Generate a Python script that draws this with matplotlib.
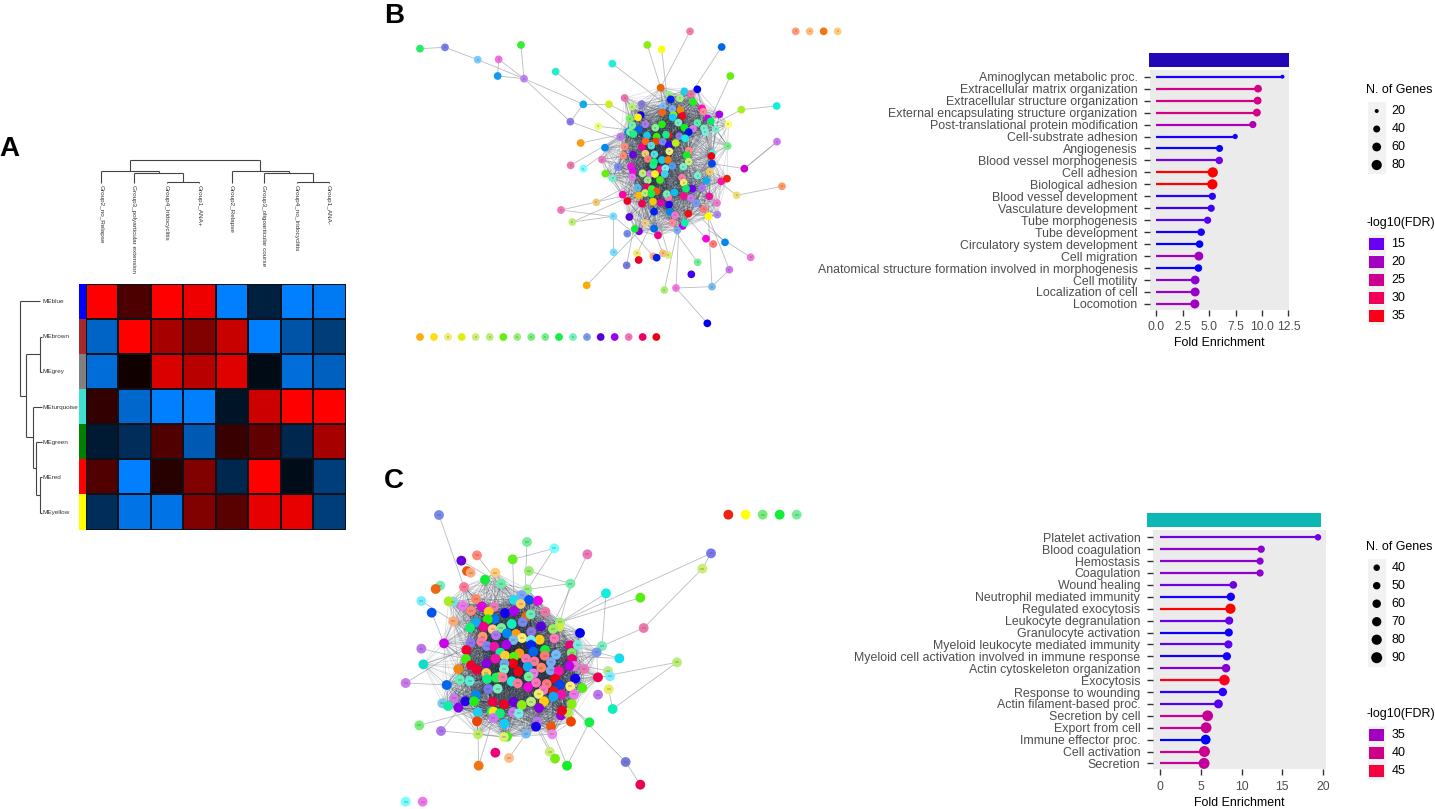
import matplotlib
matplotlib.use("Agg")
import matplotlib.pyplot as plt
from matplotlib.colors import LinearSegmentedColormap
from matplotlib.patches import Rectangle
import numpy as np

plt.rcParams['font.family'] = ['Liberation Sans', 'DejaVu Sans']

W, H = 1435, 809

# panel A: module / trait correlations
samples = ["Group2_no_Relapse", "Group3_polyarticular extension", "Group4_Iridocyclitis", "Group1_ANA+",
           "Group2_Relapse", "Group3_oligoarticular course", "Group4_no_Iridocyclitis", "Group1_ANA-"]
modules = ["MEblue", "MEbrown", "MEgrey", "MEturquoise", "MEgreen", "MEred", "MEyellow"]
module_cols = ["#0000ff", "#a52a2a", "#808080", "#40e0d0", "#008000", "#ff0000", "#ffff00"]
corr = [[1, 0.3, 1, 0.93, -1, -0.25, -1, -0.95],
        [-0.78, 1, 0.65, 0.5, 0.78, -1, -0.65, -0.47],
        [-0.85, 0.07, 0.85, 0.72, 0.87, -0.08, -0.85, -0.75],
        [0.2, -0.8, -1, -1, -0.15, 0.8, 1, 1],
        [-0.2, -0.35, 0.32, -0.7, 0.22, 0.38, -0.3, 0.65],
        [0.32, -1, 0.15, 0.5, -0.3, 1, -0.1, -0.48],
        [-0.35, -0.9, -0.9, 0.5, 0.35, 0.9, 0.9, -0.48]]
col_dendro = [(390, 90, 780, 90), (390, 90, 390, 122), (780, 90, 780, 122),
              (304, 122, 476, 122), (304, 122, 304, 160), (476, 122, 476, 130),
              (402, 130, 550, 130), (402, 130, 402, 160), (550, 130, 550, 157),
              (500, 157, 597, 157), (500, 157, 500, 160), (597, 157, 597, 160),
              (695, 122, 866, 122), (695, 122, 695, 160), (866, 122, 866, 130),
              (792, 130, 938, 130), (792, 130, 792, 160), (938, 130, 938, 157),
              (890, 157, 988, 157), (890, 157, 890, 160), (988, 157, 988, 160)]
row_dendro = [(60, 513, 120, 513), (60, 513, 60, 797), (60, 797, 77, 797), (77, 672, 77, 922),
              (77, 672, 120, 672), (120, 620, 120, 727), (120, 620, 125, 620), (120, 727, 125, 727),
              (77, 922, 100, 922), (100, 830, 100, 1015), (100, 830, 125, 830), (100, 1015, 108, 1015),
              (108, 935, 108, 1095), (108, 935, 125, 935), (108, 1095, 120, 1095),
              (120, 1042, 120, 1148), (120, 1042, 125, 1042), (120, 1148, 125, 1148)]

# panel B network, read-off positions and colours
b_nodes = [(60,146,'#22ee66'),(135,142,'#7a7aee'),(233,179,'#77ccff'),(296,178,'#f070e0'),(293,228,'#1199ee'),
(372,236,'#c080f0'),(363,135,'#33ee33'),(467,215,'#22eecc'),(637,191,'#22eedd'),(742,135,'#88ee11'),(785,148,'#ffff11'),
(870,94,'#f080a8'),(965,141,'#0066ee'),(991,228,'#66ee11'),(782,263,'#ee6600'),(892,268,'#0000ee'),(853,274,'#22ccee'),
(873,282,'#ee70a0'),(808,284,'#99ee88'),(812,298,'#0022ee'),(840,295,'#aaee88'),(879,306,'#22ee22'),(550,313,'#11aaee'),
(627,313,'#ccee22'),(674,294,'#ee70aa'),(697,320,'#bbee77'),(725,312,'#8877dd'),(789,319,'#77bbff'),(817,327,'#77aaff'),
(841,330,'#ee8811'),(906,325,'#ff11bb'),(910,335,'#ff8899'),(958,343,'#aa00ee'),(1024,329,'#aaee22'),(1130,318,'#11eedd'),
(511,365,'#8877ee'),(595,379,'#eeff77'),(689,356,'#77ee66'),(722,345,'#1100ee'),(714,352,'#ffee11'),(787,337,'#ee6611'),
(820,345,'#99ee11'),(818,352,'#11ccff'),(847,348,'#ee0022'),(924,356,'#cc00ee'),(932,364,'#00ee66'),(892,369,'#55eeaa'),
(985,373,'#ffff77'),(736,373,'#aa77ee'),(786,373,'#22ee11'),(835,368,'#77eebb'),(697,376,'#77eeaa'),(766,383,'#88ee99'),
(853,383,'#11ee22'),(879,386,'#dd77ee'),(912,385,'#77eebb'),(947,388,'#77eecc'),(717,388,'#0066ee'),(684,396,'#0088ee'),
(690,396,'#77ee99'),(700,402,'#22ee88'),(866,396,'#0011ee'),(542,429,'#ff9911'),(661,410,'#bb77ee'),(741,407,'#11ccee'),
(770,410,'#33ee11'),(806,405,'#ee1122'),(798,404,'#11ee88'),(838,409,'#8877ee'),(855,415,'#11eedd'),(916,397,'#77eedd'),
(1131,425,'#cc77ee'),(983,438,'#77ee88'),(615,443,'#0088ee'),(674,440,'#ff8877'),(726,441,'#ee0088'),(737,424,'#ff6622'),
(768,424,'#ee4400'),(754,437,'#55dddd'),(788,425,'#7788ee'),(807,435,'#3300ee'),(827,429,'#bbee11'),(866,452,'#ff8888'),
(808,454,'#eeee77'),(699,464,'#6600dd'),(670,467,'#ff8877'),(736,461,'#eecc77'),(763,463,'#55dddd'),(860,466,'#11ee22'),
(937,460,'#55eedd'),(934,468,'#ee0011'),(606,479,'#ee77bb'),(744,477,'#ff7777'),(786,480,'#11ccee'),(804,480,'#ee7711'),
(760,495,'#22ee99'),(762,486,'#11ee77'),(866,485,'#ccee77'),(936,491,'#0044ee'),(512,496,'#ee77aa'),(654,501,'#7788ee'),
(693,500,'#ee11dd'),(817,498,'#5599ee'),(850,500,'#77eecc'),(1033,506,'#cc00cc'),(550,506,'#77ffff'),(616,521,'#66ee11'),
(638,535,'#77eecc'),(699,515,'#dd11dd'),(781,508,'#ff1177'),(796,505,'#77eeee'),(728,520,'#bbee77'),(750,522,'#cc77ee'),
(765,522,'#ffee22'),(794,522,'#44ccee'),(697,532,'#dd77ee'),(743,541,'#99ee88'),(780,540,'#44ee11'),(846,533,'#ff77aa'),
(893,527,'#77eecc'),(929,515,'#eecc66'),(851,548,'#eeee66'),(919,542,'#11aaee'),(964,544,'#ff11aa'),(981,536,'#ee2211'),
(740,561,'#ee0066'),(713,563,'#55bbee'),(755,567,'#44ee33'),(770,574,'#ee5511'),(877,566,'#6600ee'),(858,566,'#11ee66'),
(906,564,'#aa77ee'),(668,584,'#ff00aa'),(717,586,'#ffbb00'),(735,579,'#bbee77'),(754,581,'#11ee44'),(805,592,'#ff77aa'),
(800,582,'#77eebb'),(823,577,'#11bbee'),(851,588,'#ee1188'),(873,594,'#cc77ee'),(928,589,'#ee1199'),(1010,586,'#eedd77'),
(1146,559,'#ff9966'),(682,603,'#ee0022'),(589,607,'#eecc77'),(726,611,'#ee0055'),(759,605,'#eecc00'),(782,608,'#dd00aa'),
(807,614,'#2200ee'),(888,610,'#7799ee'),(951,609,'#ee77cc'),(483,630,'#ee77bb'),(911,628,'#ff7777'),(762,635,'#0022ee'),
(810,636,'#0088ee'),(865,641,'#ee1111'),(640,649,'#77ddff'),(688,651,'#5500dd'),(925,649,'#ffff00'),(952,644,'#aa88ee'),
(825,646,'#ee77cc'),(517,666,'#bbee77'),(736,669,'#eecc88'),(817,668,'#ff8899'),(848,678,'#cc00ee'),(854,669,'#11eeaa'),
(717,694,'#8800dd'),(704,687,'#11ee33'),(762,686,'#0066ee'),(832,691,'#77aaee'),(682,701,'#7788ee'),(774,706,'#ee0088'),
(918,716,'#ff00dd'),(940,732,'#ff7777'),(975,727,'#0088ee'),(641,757,'#77ddff'),(711,760,'#eeee77'),(760,769,'#ffaa77'),
(805,765,'#ddee77'),(789,760,'#ffbb77'),(770,773,'#0022ee'),(716,780,'#ee0022'),(680,796,'#7777dd'),(1052,772,'#ee77dd'),
(893,787,'#77ee99'),(874,823,'#4400ee'),(988,809,'#cc77ee'),(560,856,'#ffaa00'),(793,870,'#aaee77'),(828,864,'#ee77dd'),
(936,860,'#77bbee'),(922,970,'#0000ee'),
(1187,94,'#ff9977'),(1229,94,'#ffbb77'),(1271,94,'#ee7711'),(1313,94,'#ffcc77'),
(60,1011,'#ffaa11'),(102,1011,'#ffdd11'),(144,1011,'#eeee77'),(185,1011,'#ddee11'),(227,1011,'#ccee77'),(269,1011,'#bbee77'),
(310,1011,'#66ee11'),(352,1011,'#99ee77'),(394,1011,'#77ee77'),(436,1011,'#77ee88'),(477,1011,'#11ee44'),(519,1011,'#77eebb'),
(561,1011,'#7799ee'),(602,1011,'#5500dd'),(644,1011,'#9900ee'),(686,1011,'#ee77bb'),(728,1011,'#ee0066'),(769,1011,'#ee0011')]
b_edges = [(60,146,135,142),(135,142,233,179),(233,179,372,236),(296,178,372,236),(296,178,293,228),(293,228,372,236),
(363,135,372,236),(372,236,550,313),(372,236,511,365),(467,215,690,395),(550,313,511,365),(550,313,627,313),(637,191,780,300),
(742,135,782,263),(785,148,800,280),(870,94,782,263),(965,141,840,330),(991,228,930,360),(1130,318,1024,329),(1024,329,890,400),
(511,365,690,430),(595,379,690,390),(542,429,680,400),(615,443,760,420),(512,496,660,410),(606,479,700,500),(550,506,640,440),
(616,521,700,520),(1131,425,1033,506),(1131,425,1040,500),(1033,506,936,491),(1146,559,1010,586),(1010,586,860,470),(483,630,660,590),
(483,630,640,650),(589,607,680,560),(517,666,690,590),(517,666,640,649),(640,649,690,690),(641,757,640,650),(560,856,720,690),
(680,796,700,690),(828,864,836,700),(828,864,936,860),(793,870,830,700),(828,864,922,970),(988,809,936,860),(988,809,925,649),
(936,860,925,649),(1052,772,925,690),(975,727,910,660),(893,787,830,700),(760,769,700,700),(711,760,770,640),(805,765,770,640),
(789,760,740,640),(674,294,790,350),(627,313,760,380),(725,312,700,400),(983,438,860,400),(985,373,860,470),(918,716,850,640)]

# panel C network
c_nodes = [(147,75,'#7788ee'),(411,156,'#77ee99'),(493,175,'#77ffff'),(592,193,'#ee77bb'),(1015,74,'#ee2211'),(1067,74,'#ffff11'),
(1118,74,'#77ee77'),(1169,74,'#11ee33'),(1220,74,'#77ee99'),(963,190,'#7777ee'),(937,236,'#ccee77'),(751,323,'#55ee11'),(761,414,'#ee77aa'),
(648,310,'#11eedd'),(541,281,'#77eeaa'),(261,196,'#ff8877'),(214,212,'#6600dd'),(368,208,'#66ee22'),(417,243,'#99ee77'),(231,243,'#ee5511'),
(242,248,'#ffaa77'),(316,248,'#ffcc77'),(285,269,'#11ee33'),(334,281,'#66eeaa'),(151,287,'#77eebb'),(137,297,'#ee6611'),(222,291,'#ff7799'),
(412,298,'#99ee88'),(94,333,'#77eeff'),(190,335,'#77ddee'),(176,334,'#aaee22'),(258,327,'#ff8866'),(218,347,'#ee77ee'),(276,350,'#dd00dd'),
(312,351,'#ee77bb'),(395,315,'#77aaff'),(372,330,'#22ddee'),(417,330,'#0055ee'),(444,332,'#ee00ee'),(392,342,'#ffcc66'),(125,368,'#0055ee'),
(243,362,'#ff8877'),(296,365,'#ffcc11'),(345,369,'#1100ee'),(372,363,'#aa00ee'),(408,380,'#ee6600'),(422,373,'#66eebb'),(466,365,'#ee77aa'),
(190,394,'#ffaa77'),(258,397,'#11aaee'),(314,387,'#0077ee'),(293,388,'#22ee11'),(510,397,'#99ee77'),(240,413,'#11ee77'),(281,410,'#ee0088'),
(308,418,'#ffcc88'),(334,414,'#77ee99'),(365,402,'#11eebb'),(398,396,'#7788ee'),(453,409,'#5500dd'),(508,410,'#ccee44'),(489,417,'#99ee66'),
(570,429,'#0000ee'),(424,425,'#8877dd'),(378,432,'#ff9911'),(351,430,'#0088ee'),(278,440,'#ff9966'),(318,436,'#aa77ee'),(449,449,'#ffcc11'),
(396,444,'#ffee77'),(493,445,'#ff77bb'),(162,460,'#cc00ee'),(242,458,'#8877ee'),(274,455,'#ff77aa'),(291,468,'#7788ee'),(313,470,'#ee11aa'),
(370,450,'#77bbee'),(349,464,'#aa00ee'),(423,450,'#77eeee'),(423,465,'#0022ee'),(465,480,'#11ee33'),(541,466,'#ee0077'),(563,465,'#77eedd'),
(636,468,'#77eebb'),(94,476,'#bb77ee'),(229,480,'#ee0033'),(430,485,'#0066ee'),(331,488,'#11ee99'),(388,490,'#ff9911'),(345,497,'#ffcc33'),
(498,494,'#77bbff'),(545,489,'#77ee66'),(620,487,'#7799ee'),(228,507,'#44ee11'),(372,500,'#55ee11'),(408,506,'#ff77aa'),(464,497,'#ff7777'),
(433,514,'#ff7799'),(483,516,'#77aaee'),(688,505,'#11ddee'),(546,507,'#ee0077'),(316,506,'#ee11aa'),(100,523,'#11ddcc'),(289,520,'#8800dd'),
(243,526,'#ee0033'),(369,520,'#ee0011'),(343,521,'#66aaee'),(413,530,'#11aaee'),(552,528,'#ee77dd'),(538,528,'#bb00ee'),(205,537,'#ee8811'),
(260,539,'#ee0033'),(342,538,'#77eecc'),(454,533,'#ff8866'),(385,544,'#ee0011'),(482,541,'#77aaee'),(506,543,'#ff11aa'),(583,537,'#ee77bb'),
(861,517,'#bbee77'),(654,543,'#bbee88'),(624,562,'#ee0055'),(660,559,'#77eeff'),(556,566,'#1100ee'),(289,549,'#ffcc55'),(431,550,'#ee77ee'),
(416,560,'#77ee99'),(47,579,'#cc77ee'),(209,569,'#66eebb'),(239,573,'#55eedd'),(291,567,'#11ee88'),(326,562,'#eeff11'),(318,563,'#22ee55'),
(338,562,'#ff7799'),(365,574,'#11eedd'),(496,567,'#ee0011'),(170,585,'#0066ee'),(383,580,'#ff7799'),(438,578,'#ff77bb'),(470,582,'#ff7777'),
(509,584,'#0044ee'),(541,589,'#ffee77'),(577,594,'#55ee11'),(656,598,'#eeee66'),(295,597,'#7777ee'),(323,596,'#77eebb'),(414,591,'#ee00dd'),
(460,600,'#ff77bb'),(491,604,'#ee1111'),(446,612,'#eeee77'),(514,613,'#ee11aa'),(552,613,'#ee77ee'),(624,614,'#bb77ee'),(258,615,'#0088ee'),
(490,620,'#11aaee'),(192,625,'#cc77ee'),(226,634,'#2200ee'),(252,634,'#22ee11'),(308,636,'#ee0044'),(371,636,'#6600dd'),(342,643,'#ee0022'),
(395,645,'#88ee11'),(423,635,'#bbee77'),(462,634,'#ffcc11'),(157,640,'#77ccee'),(174,648,'#11eeaa'),(205,653,'#8800ee'),(447,654,'#8800dd'),
(545,642,'#88ee11'),(668,657,'#11eebb'),(263,667,'#22ccee'),(305,664,'#11ee66'),(311,665,'#eeee11'),(369,666,'#cc77ee'),(386,670,'#77eeee'),
(513,676,'#9900dd'),(534,668,'#aaee44'),(516,662,'#ee0022'),(330,670,'#11ee77'),(310,684,'#cc77ee'),(88,706,'#77ee77'),(261,694,'#ee4400'),
(343,701,'#11ccff'),(442,694,'#bb77ee'),(543,695,'#ee4400'),(598,697,'#11ee44'),(438,710,'#1100ee'),(483,709,'#ee5511'),(153,723,'#aa77ee'),
(264,733,'#bbee66'),(408,731,'#77bbee'),(487,733,'#ee88ee'),(351,740,'#44ee11'),(341,741,'#ddee77'),(316,788,'#ee0077'),(479,785,'#ccee77'),
(357,804,'#ffbb88'),(495,806,'#77ee11'),(707,816,'#7777dd'),(266,827,'#ee7711'),(531,827,'#11ee22'),(751,884,'#ee0055'),(47,935,'#77ffff'),(98,935,'#ee77ee')]
c_edges = [(147,75,222,291),(963,190,510,397),(937,236,761,414),(963,190,937,236),(751,323,510,397),(648,310,510,397),(648,310,636,468),
(761,414,636,468),(541,281,510,397),(541,281,417,243),(541,281,412,298),(493,175,411,300),(493,175,368,208),(411,156,405,320),(592,193,500,380),
(368,208,372,330),(261,196,340,300),(214,212,330,280),(861,517,624,562),(861,517,668,657),(47,579,170,585),(47,579,242,458),(88,706,261,660),
(153,723,264,733),(153,723,226,634),(264,733,341,741),(707,816,543,650),(707,816,751,884),(266,827,264,733),(266,827,310,684),(531,827,480,700),
(531,827,598,697),(495,806,440,700),(357,804,408,731),(479,785,438,710),(598,697,543,650),(668,657,656,598),(688,505,560,500),(620,487,690,505),
(94,333,190,394),(94,476,240,510),(100,523,229,480),(125,368,162,460),(636,468,563,465),(654,543,540,520),(660,559,560,566),(190,394,162,460)]

# panel B lollipops
b_terms = ["Aminoglycan metabolic proc.", "Extracellular matrix organization", "Extracellular structure organization",
           "External encapsulating structure organization", "Post-translational protein modification", "Cell-substrate adhesion",
           "Angiogenesis", "Blood vessel morphogenesis", "Cell adhesion", "Biological adhesion", "Blood vessel development",
           "Vasculature development", "Tube morphogenesis", "Tube development", "Circulatory system development", "Cell migration",
           "Anatomical structure formation involved in morphogenesis", "Cell motility", "Localization of cell", "Locomotion"]
b_fold = [11.93, 9.62, 9.58, 9.51, 9.13, 7.46, 5.98, 5.95, 5.34, 5.30, 5.30, 5.19, 4.85, 4.24, 4.09, 4.02, 3.98, 3.67, 3.67, 3.64]
b_genes = [20, 48, 50, 50, 42, 28, 40, 45, 92, 92, 42, 42, 42, 46, 46, 62, 46, 60, 62, 64]
b_fdr = [11, 26, 26, 26, 21, 11, 10.5, 16, 37, 37, 12, 13, 14, 11, 10, 20, 10.5, 18, 19, 20]
b_gene_ticks = [20, 40, 60, 80]
b_fdr_ticks = [15, 20, 25, 30, 35]

# panel C lollipops
c_terms = ["Platelet activation", "Blood coagulation", "Hemostasis", "Coagulation", "Wound healing", "Neutrophil mediated immunity",
           "Regulated exocytosis", "Leukocyte degranulation", "Granulocyte activation", "Myeloid leukocyte mediated immunity",
           "Myeloid cell activation involved in immune response", "Actin cytoskeleton organization", "Exocytosis", "Response to wounding",
           "Actin filament-based proc.", "Secretion by cell", "Export from cell", "Immune effector proc.", "Cell activation", "Secretion"]
c_fold = [19.4, 12.41, 12.27, 12.27, 8.97, 8.67, 8.62, 8.47, 8.42, 8.37, 8.18, 8.08, 7.88, 7.68, 7.14, 5.81, 5.62, 5.57, 5.42, 5.37]
c_genes = [33, 48, 47, 47, 52, 58, 80, 56, 56, 56, 58, 60, 85, 60, 65, 88, 88, 76, 90, 90]
c_fdr = [31.5, 33.5, 33.5, 33.5, 31.5, 27, 47, 31, 26.5, 30.5, 27, 33, 46, 28, 30, 39, 39, 26, 39.5, 38.5]
c_gene_ticks = [40, 50, 60, 70, 80, 90]
c_fdr_ticks = [35, 40, 45]

fig = plt.figure(figsize=(W / 100, H / 100), dpi=100)


def px_axes(x0, y0, x1, y1, **kw):
    return fig.add_axes([x0 / W, 1 - y1 / H, (x1 - x0) / W, (y1 - y0) / H], **kw)


def draw_segments(ax, segs, **kw):
    for x0, y0, x1, y1 in segs:
        ax.plot([x0, x1], [y0, y1], solid_capstyle='butt', **kw)


# A: heatmap, colour strip and dendrograms
heat_cmap = LinearSegmentedColormap.from_list("hm", ["#0080ff", "#000000", "#ff0000"])
ax_h = px_axes(86, 283.5, 345.7, 529.5)
ax_h.pcolormesh(np.array(corr), cmap=heat_cmap, vmin=-1, vmax=1, edgecolors='#10101a', linewidth=0.15)
ax_h.set_ylim(len(modules), 0)
ax_h.axis('off')

ax_s = px_axes(79, 283.5, 86, 529.5)
for i, c in enumerate(module_cols):
    ax_s.bar(0.5, 1, bottom=i, width=1, color=c)
ax_s.set_xlim(0, 1)
ax_s.set_ylim(len(modules), 0)
ax_s.axis('off')

ax_d = px_axes(0, 130, 360, 540)
ax_d.set_xlim(0, 1080)
ax_d.set_ylim(1230, 0)
ax_d.axis('off')
ax_d.patch.set_alpha(0)
draw_segments(ax_d, col_dendro, color='#444444', lw=0.8)
draw_segments(ax_d, row_dendro, color='#444444', lw=0.8)
for i, s in enumerate(samples):
    ax_d.text(304 + i * 97.3, 165, s, rotation=270, ha='center', va='top', fontsize=4.6, color='#333333')
for i, m in enumerate(modules):
    ax_d.text(127, 515 + i * 105.5, m, ha='left', va='center', fontsize=4.6, color='#333333')


def draw_network(box, lims, nodes, edges, core, reach, ms):
    ax = px_axes(*box)
    ax.set_xlim(0, lims[0])
    ax.set_ylim(lims[1], 0)
    ax.axis('off')
    ax.patch.set_alpha(0)
    xs = np.array([n[0] for n in nodes], float)
    ys = np.array([n[1] for n in nodes], float)
    cols = [n[2] for n in nodes]
    # the hairball: every pair of central nodes closer than reach
    cx, cy, rx, ry = core
    inside = np.where(((xs - cx) / rx) ** 2 + ((ys - cy) / ry) ** 2 < 1)[0]
    for a, i in enumerate(inside):
        for j in inside[a + 1:]:
            d = np.hypot(xs[i] - xs[j], ys[i] - ys[j])
            if d < reach:
                ax.plot([xs[i], xs[j]], [ys[i], ys[j]], color='#1f2a3a', lw=0.45,
                        alpha=0.08 + 0.34 * (1 - d / reach), zorder=1)
    for x0, y0, x1, y1 in edges:
        ax.plot([x0, x1], [y0, y1], color='#8a8f98', lw=0.6, alpha=0.6, zorder=1)
    ax.scatter(xs, ys, s=ms, c=cols, linewidths=0, zorder=2)
    # gene labels are not legible in the source, pale nodes just show a dark dash
    pale = [k for k, c in enumerate(cols) if min(int(c[p:p + 2], 16) for p in (1, 3, 5)) > 0x50]
    ax.scatter(xs[pale], ys[pale], s=ms * 0.14, marker='_', color='#555544', linewidths=0.35, zorder=3)


draw_network((400, 0, 850, 350), (1350, 1050), b_nodes, b_edges, (800, 470, 210, 260), 150, 31)
draw_network((390, 490, 810, 809), (1260, 957), c_nodes, c_edges, (365, 510, 270, 270), 190, 50)

# lollipop panels
cmap_b = LinearSegmentedColormap.from_list("b", [(0, "#0000ff"), (5 / 27, "#6a00f0"), (10 / 27, "#a400c0"),
                                                 (15 / 27, "#cc0090"), (20 / 27, "#ee0058"), (1, "#ff0000")])
cmap_c = LinearSegmentedColormap.from_list("c", [(0, "#0000ff"), (4 / 21, "#5800f0"), (9 / 21, "#a400c0"),
                                                 (14 / 21, "#d00088"), (19 / 21, "#f80040"), (1, "#ff0000")])


def gene_size(g, ticks, diam):
    d = np.interp(g, ticks, diam)
    return (d * 0.72) ** 2


def draw_lollipop(box, strip, strip_col, xlim, first, step, terms, fold, genes, fdr, cmap, fdr_lim,
                  gene_ticks, diam, xticks, xlabels):
    ax = px_axes(*box)
    ax.set_facecolor('#ebebeb')
    y = np.arange(len(terms))
    cols = cmap((np.array(fdr) - fdr_lim[0]) / (fdr_lim[1] - fdr_lim[0]))
    ax.hlines(y, 0, fold, colors=cols, lw=1.6, zorder=2)
    ax.scatter(fold, y, s=gene_size(genes, gene_ticks, diam), c=cols, linewidths=0, zorder=3)
    ax.set_xlim(*xlim)
    # y limits follow from the pixel positions of first and last row
    ax.set_ylim((box[3] - first) / step, (box[1] - first) / step)
    ax.set_yticks(y)
    ax.set_yticklabels(terms, fontsize=8.95, color='#4d4d4d')
    ax.set_xticks(xticks)
    ax.set_xticklabels(xlabels, fontsize=8.8, color='#4d4d4d')
    ax.set_xlabel("Fold Enrichment", fontsize=8.9, labelpad=2.5)
    ax.tick_params(axis='y', length=4, width=1, color='#333333', pad=5)
    ax.tick_params(axis='x', length=4, width=1, color='#333333', pad=4.5)
    for s in ax.spines.values():
        s.set_visible(False)
    ov = px_axes(*strip)
    ov.set_facecolor(strip_col)
    ov.set_xticks([])
    ov.set_yticks([])
    for s in ov.spines.values():
        s.set_visible(False)


def draw_legends(ov, x, gene_title_y, gene_ticks, diam, fdr_title_y, fdr_ticks, cmap, fdr_lim):
    ov.text(x - 1, gene_title_y, "N. of Genes", fontsize=9, va='center', ha='left', color='black')
    top = gene_title_y + 12
    ov.add_patch(Rectangle((x, top), 18.5, 18 * len(gene_ticks), color='#f2f2f2', lw=0))
    ky = top + 9 + 18 * np.arange(len(gene_ticks))
    ov.scatter([x + 9.2] * len(gene_ticks), ky, s=gene_size(gene_ticks, gene_ticks, diam), c='black', linewidths=0)
    for yy, t in zip(ky, gene_ticks):
        ov.text(x + 24, yy, str(t), fontsize=9, va='center', ha='left', color='black')
    ov.text(x - 1, fdr_title_y, "-log10(FDR)", fontsize=9, va='center', ha='left', color='black')
    top = fdr_title_y + 12
    ov.add_patch(Rectangle((x, top), 18.5, 18 * len(fdr_ticks), color='#f2f2f2', lw=0))
    ky = top + 9 + 18 * np.arange(len(fdr_ticks))
    cols = cmap((np.array(fdr_ticks) - fdr_lim[0]) / (fdr_lim[1] - fdr_lim[0]))
    for yy, c, t in zip(ky, cols, fdr_ticks):
        ov.add_patch(Rectangle((x + 1.7, yy - 6), 15, 12, color=c, lw=0))
        ov.text(x + 24, yy, str(t), fontsize=9, va='center', ha='left', color='black')


draw_lollipop((1150, 70, 1288.8, 309.5), (1148.8, 53.3, 1288.8, 66.7), '#2408b8', (-0.6, 12.53), 76.7, 11.96,
              b_terms, b_fold, b_genes, b_fdr, cmap_b, (10, 37), b_gene_ticks, [4, 7, 8.8, 10.2],
              [0, 2.5, 5, 7.5, 10, 12.5], ["0.0", "2.5", "5.0", "7.5", "10.0", "12.5"])
draw_lollipop((1152.8, 530, 1326, 769.3), (1146.5, 513.3, 1320.5, 526.7), '#0cb8b4', (-0.94, 20.39), 537.3, 11.9,
              c_terms, c_fold, c_genes, c_fdr, cmap_c, (26, 47), c_gene_ticks, [6.5, 7.5, 8.5, 9.3, 10.2, 11],
              [0, 5, 10, 15, 20], ["0", "5", "10", "15", "20"])

# overlay in figure pixels for legends and panel letters
ov = px_axes(0, 0, W, H)
ov.set_xlim(0, W)
ov.set_ylim(H, 0)
ov.axis('off')
ov.patch.set_alpha(0)
draw_legends(ov, 1367.5, 90, b_gene_ticks, [4, 7, 8.8, 10.2], 222.7, b_fdr_ticks, cmap_b, (10, 37))
draw_legends(ov, 1367.5, 546.7, c_gene_ticks, [6.5, 7.5, 8.5, 9.3, 10.2, 11], 713.7, c_fdr_ticks, cmap_c, (26, 47))
for letter, lx, ly in zip("ABC", [-1, 384, 384], [149, 16, 481]):
    ov.text(lx, ly, letter, fontsize=20, fontweight='bold', va='center', ha='left', color='black')

fig.savefig("out.png", dpi=100)
